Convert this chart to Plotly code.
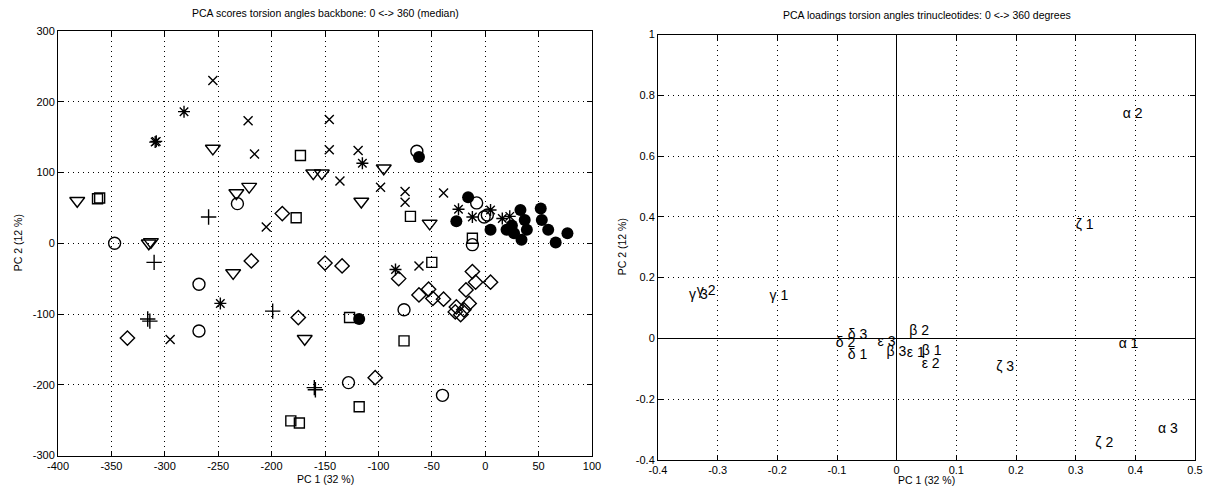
import plotly.graph_objects as go

# ---------------- Left panel: PCA scores (PC1, PC2) by marker group ----------------
open_circle_x = [-232, -347, -268, -268, -64, -8, -12, -76, -128, -40, 2, -1]
open_circle_y = [56, 0, -58, -124, 130, 57, -2, -94, -197, -215, 40, 37]

filled_circle_x = [-62, -16, -27, 5, 20, 27, 33, 37, 39, 34, 52, 53, 59, 66, 77, 25, -118]
filled_circle_y = [122, 65, 31, 19, 19, 14, 47, 33, 19, 5, 49, 33, 19, 1, 14, 25, -107]

x_mark_x = [-255, -222, -216, -205, -146, -146, -119, -136, -98, -75, -75, -39, -295, -62]
x_mark_y = [230, 173, 126, 23, 175, 132, 131, 88, 79, 73, 58, 71, -136, -32]

plus_x = [-259, -310, -316, -314, -199, -160, -159]
plus_y = [37, -27, -107, -110, -96, -204, -207]

star_x = [-282, -309, -308, -115, -248, -84, -25, -12, 5, 16, 23]
star_y = [186, 143, 144, 113, -85, -37, 48, 37, 47, 35, 38]

square_x = [-363, -361, -173, -177, -70, -50, -12, -127, -76, -118, -182, -174]
square_y = [63, 64, 124, 36, 38, -27, 7, -105, -138, -231, -251, -254]

diamond_x = [-190, -219, -175, -335, -150, -134, -81, -12, -9, 5, -18, -53, -62, -49,
             -39, -15, -27, -28, -23, -20, -103]
diamond_y = [42, -25, -105, -134, -28, -32, -50, -40, -55, -55, -66, -65, -73, -78,
             -79, -85, -90, -97, -101, -94, -190]

triangle_x = [-255, -161, -153, -95, -382, -233, -221, -116, -52, -315, -313, -236, -169]
triangle_y = [134, 99, 99, 106, 60, 71, 80, 59, 28, 0, 2, -42, -135]

left_xticks = [-400, -350, -300, -250, -200, -150, -100, -50, 0, 50, 100]
left_yticks = [-300, -200, -100, 0, 100, 200, 300]

# ---------------- Right panel: PCA loadings (text labels) ----------------
load_labels = ["α 2", "ζ 1", "γ 3", "γ 2", "γ 1", "δ 3", "δ 2", "δ 1", "ε 3",
               "β 3", "ε 1", "β 1", "ε 2", "β 2", "ζ 3", "α 1", "α 3", "ζ 2"]
load_x = [0.379, 0.300, -0.348, -0.335, -0.213, -0.082, -0.102, -0.082, -0.032,
          -0.017, 0.017, 0.042, 0.042, 0.021, 0.167, 0.372, 0.438, 0.333]
load_y = [0.738, 0.370, 0.142, 0.156, 0.139, 0.010, -0.017, -0.056, -0.013,
          -0.047, -0.050, -0.043, -0.086, 0.024, -0.097, -0.020, -0.298, -0.347]

right_xticks = [-0.4, -0.3, -0.2, -0.1, 0, 0.1, 0.2, 0.3, 0.4, 0.5]
right_xticktext = ["-0.4", "-0.3", "-0.2", "-0.1", "0", "0.1", "0.2", "0.3", "0.4", "0.5"]
right_yticks = [-0.4, -0.2, 0, 0.2, 0.4, 0.6, 0.8, 1]
right_yticktext = ["-0.4", "-0.2", "0", "0.2", "0.4", "0.6", "0.8", "1"]

W, H = 1207, 491
FONT = "Liberation Sans, Arial, Helvetica, sans-serif"

fig = go.Figure()

def add_group(xs, ys, symbol, size, lw=1.4):
    fig.add_trace(go.Scatter(
        x=xs, y=ys, mode="markers", xaxis="x", yaxis="y", showlegend=False,
        marker=dict(symbol=symbol, size=size, color="black",
                    line=dict(color="black", width=lw)),
        hoverinfo="x+y"))

add_group(open_circle_x, open_circle_y, "circle-open", 12)
add_group(filled_circle_x, filled_circle_y, "circle", 12, lw=0)
add_group(x_mark_x, x_mark_y, "x-thin-open", 9)
add_group(plus_x, plus_y, "cross-thin-open", 11)
add_group(star_x, star_y, "asterisk-open", 10)
add_group(square_x, square_y, "square-open", 10)
add_group(diamond_x, diamond_y, "diamond-open", 11)
add_group(triangle_x, triangle_y, "triangle-down-open", 13)

fig.add_trace(go.Scatter(
    x=load_x, y=load_y, mode="text", text=load_labels, textposition="middle right",
    textfont=dict(family=FONT, size=14, color="black"),
    xaxis="x2", yaxis="y2", showlegend=False, hoverinfo="text"))

dot = "1px,4px"
common = dict(showline=True, linecolor="black", linewidth=1, mirror="allticks",
              ticks="inside", ticklen=5, tickcolor="black", automargin=False,
              showgrid=True, gridcolor="black", gridwidth=1, griddash=dot,
              tickfont=dict(family=FONT, size=11, color="black"))

lx0, lx1 = 58 / W, 592 / W
rx0, rx1 = 658 / W, 1195 / W
ly0, ly1 = (H - 455.5) / H, (H - 31) / H
ry0, ry1 = (H - 460) / H, (H - 34.5) / H

fig.update_layout(
    width=W, height=H, margin=dict(l=0, r=0, t=0, b=0, autoexpand=False),
    paper_bgcolor="white", plot_bgcolor="white",
    font=dict(family=FONT, color="black"),
    xaxis=dict(domain=[lx0, lx1], range=[-400, 100], tickvals=left_xticks,
               ticktext=[str(v) for v in left_xticks],
               zeroline=False, anchor="y", **common),
    yaxis=dict(domain=[ly0, ly1], range=[-300, 300], tickvals=left_yticks,
               ticktext=[str(v) for v in left_yticks],
               zeroline=False, anchor="x", **common),
    xaxis2=dict(domain=[rx0, rx1], range=[-0.4, 0.5], tickvals=right_xticks,
                ticktext=right_xticktext, zeroline=True, zerolinecolor="black",
                zerolinewidth=1, anchor="y2", **common),
    yaxis2=dict(domain=[ry0, ry1], range=[-0.4, 1], tickvals=right_yticks,
                ticktext=right_yticktext, zeroline=True, zerolinecolor="black",
                zerolinewidth=1, anchor="x2", **common),
)

ann = [
    dict(text="PCA scores torsion angles backbone: 0 <-> 360 (median)",
         x=(58 + 592) / 2 / W, y=(H - 13) / H),
    dict(text="PCA loadings torsion angles trinucleotides: 0 <-> 360 degrees",
         x=(658 + 1195) / 2 / W, y=(H - 15) / H),
    dict(text="PC 1 (32 %)", x=(58 + 592) / 2 / W, y=(H - 479) / H),
    dict(text="PC 1 (32 %)", x=(658 + 1195) / 2 / W, y=(H - 480) / H),
]
for a in ann:
    fig.add_annotation(xref="paper", yref="paper", showarrow=False,
                       xanchor="center", yanchor="middle",
                       font=dict(family=FONT, size=10.5, color="black"), **a)
for xp, yp in [(18, (31 + 455.5) / 2), (622, (34.5 + 460) / 2)]:
    fig.add_annotation(xref="paper", yref="paper", showarrow=False, textangle=-90,
                       x=xp / W, y=(H - yp) / H, xanchor="center", yanchor="middle",
                       text="PC 2 (12 %)", font=dict(family=FONT, size=10.5, color="black"))

fig.write_html("out.html")
